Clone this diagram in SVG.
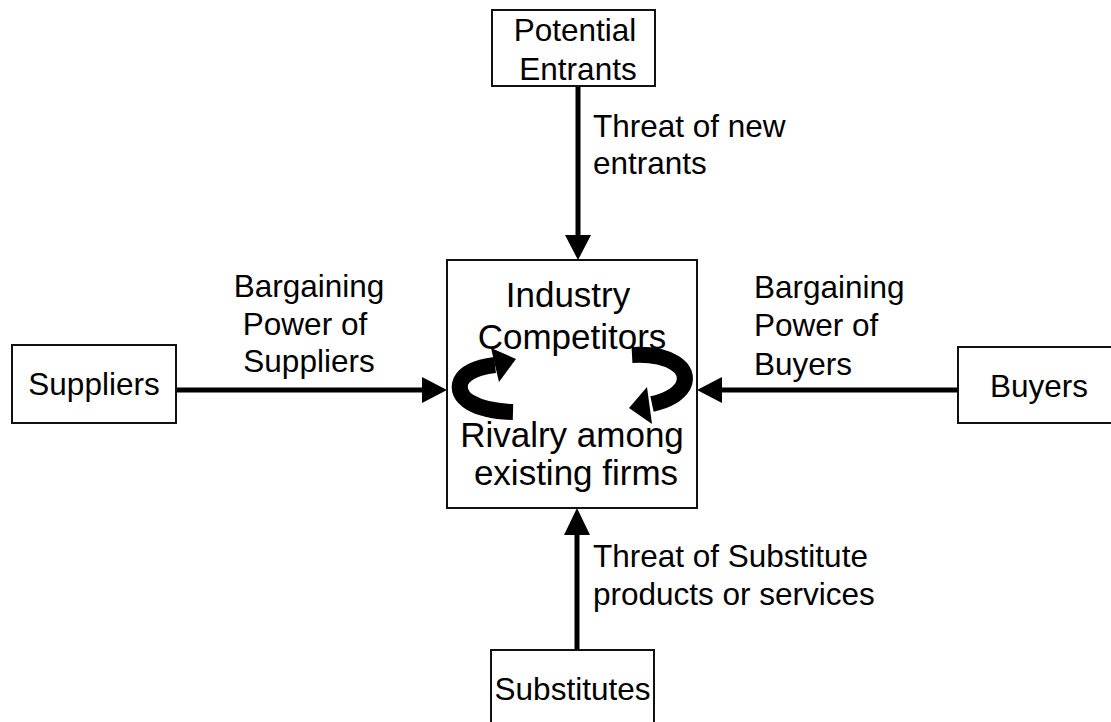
<svg xmlns="http://www.w3.org/2000/svg" width="1111" height="722" viewBox="0 0 1111 722">
<style>
.box{fill:#fff;stroke:#111;stroke-width:2}
.t{font-family:"Liberation Sans",Arial,sans-serif;font-size:31.5px;fill:#000}
.c{font-family:"Liberation Sans",Arial,sans-serif;font-size:35px;fill:#000}
.ln{stroke:#000;stroke-width:5;fill:none}
.hd{fill:#000}
.band{stroke:#000;stroke-width:16;fill:none}
</style>
<rect width="1111" height="722" fill="#fff"/>
<g id="connectors">
<line class="ln" x1="176" y1="390" x2="425" y2="390"/>
<polygon class="hd" points="422,377 447,390 422,403"/>
<line class="ln" x1="958" y1="390" x2="719" y2="390"/>
<polygon class="hd" points="722,377 697,390 722,403"/>
<line class="ln" x1="578" y1="86" x2="578" y2="238"/>
<polygon class="hd" points="565,235 578,260 591,235"/>
<line class="ln" x1="577" y1="650" x2="577" y2="532"/>
<polygon class="hd" points="564,535 577,508 590,535"/>
</g>
<g id="industry">
<rect class="box" x="447" y="260" width="250" height="248"/>
<text class="c" x="568" y="307" text-anchor="middle">Industry</text>
<text class="c" x="572" y="349" text-anchor="middle">Competitors</text>
<text class="c" x="572" y="447" text-anchor="middle">Rivalry among</text>
<text class="c" x="576" y="485" text-anchor="middle">existing firms</text>
<path class="band" d="M513,412 C476,411 454,398 461,381 C466,371 479,367 495,365"/>
<polygon class="hd" points="491,348 516,359 499,382"/>
<path class="band" d="M632,355 C669,353 692,368 683,386 C677,396 666,401 652,404"/>
<polygon class="hd" points="647,387 629,408 652,424"/>
</g>
<g id="potential-entrants">
<rect class="box" x="492" y="10" width="163" height="76"/>
<text class="t" x="575" y="41" text-anchor="middle">Potential</text>
<text class="t" x="578" y="80" text-anchor="middle">Entrants</text>
</g>
<g id="suppliers">
<rect class="box" x="12" y="345" width="164" height="78"/>
<text class="t" x="94" y="395" text-anchor="middle">Suppliers</text>
</g>
<g id="buyers">
<rect class="box" x="958" y="347" width="160" height="76"/>
<text class="t" x="1039" y="397" text-anchor="middle">Buyers</text>
</g>
<g id="substitutes">
<rect class="box" x="491" y="650" width="163" height="80"/>
<text class="t" x="572.5" y="700" text-anchor="middle">Substitutes</text>
</g>
<g id="labels">
<text class="t" x="593" y="137">Threat of new</text>
<text class="t" x="593" y="174">entrants</text>
<text class="t" x="309" y="297" text-anchor="middle">Bargaining</text>
<text class="t" x="305" y="335" text-anchor="middle">Power of</text>
<text class="t" x="309" y="372" text-anchor="middle">Suppliers</text>
<text class="t" x="754" y="298">Bargaining</text>
<text class="t" x="754" y="336">Power of</text>
<text class="t" x="754" y="375">Buyers</text>
<text class="t" x="593" y="567">Threat of Substitute</text>
<text class="t" x="593" y="605">products or services</text>
</g>
</svg>
